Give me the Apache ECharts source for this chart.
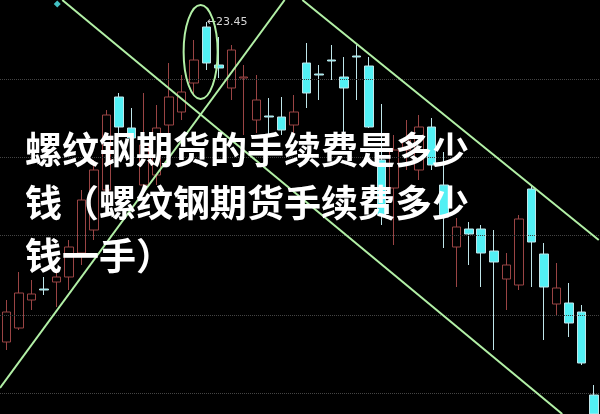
<!DOCTYPE html>
<html><head><meta charset="utf-8">
<script src="https://cdn.jsdelivr.net/npm/echarts@6/dist/echarts.min.js"></script>
<style>html,body{margin:0;padding:0;background:#000;}#c{width:600px;height:414px;}</style>
</head><body><div id="c"></div>
<script>
const categories = ['1','2','3','4','5','6','7','8','9','10','11','12','13','14','15','16','17','18','19','20','21','22','23','24','25','26','27','28','29','30','31','32','33','34','35','36','37','38','39','40','41','42','43','44','45','46','47','48'];
const opens  = [20.25,20.39,20.67,20.78,20.85,20.90,21.14,21.37,21.77,22.70,22.39,21.82,21.92,22.42,22.55,22.84,23.40,23.02,22.79,22.89,22.47,22.51,22.50,22.42,23.04,22.93,23.07,22.90,23.11,23.01,22.07,21.79,22.17,21.97,22.40,21.82,21.20,21.38,21.38,21.16,20.88,20.82,21.78,21.13,20.63,20.64,20.55,19.72];
const closes = [20.55,20.74,20.73,20.77,20.90,21.20,21.67,21.97,22.52,22.40,22.29,22.22,22.39,22.70,22.75,23.07,23.04,22.99,23.17,22.90,22.67,22.50,22.37,22.55,22.74,22.92,23.06,22.79,23.10,22.40,21.52,22.17,22.27,22.40,22.02,21.50,21.40,21.33,21.14,21.05,21.02,21.48,21.25,20.80,20.79,20.44,20.04,19.53];
const lows   = [20.17,20.37,20.57,20.72,20.60,20.77,21.02,21.27,21.67,22.32,22.07,21.72,21.82,22.32,22.47,22.72,22.97,22.89,22.67,22.32,22.34,22.30,22.32,22.32,22.59,22.67,22.87,22.25,22.67,22.39,21.42,21.22,21.97,21.87,21.97,21.19,20.80,21.02,20.80,20.17,20.57,20.77,20.80,20.27,20.52,20.30,20.02,19.53];
const highs  = [20.67,20.95,20.87,20.90,20.95,21.27,21.77,22.07,22.57,22.74,22.59,22.74,22.62,23.04,22.92,23.27,23.45,23.30,23.22,23.02,22.92,22.69,22.70,22.72,23.24,23.02,23.22,23.10,23.22,23.10,22.63,22.32,22.47,22.52,22.49,22.15,21.49,21.45,21.42,21.37,21.14,21.52,21.82,21.24,21.04,20.84,20.62,19.82];
const gridLevels = [22.88, 22.10, 21.32, 20.52, 19.74];
const trendA = [[4.48, 23.67], [44.48, 19.53]];
const trendB = [[-0.5, 19.79], [22.27, 23.67]];
const trendC = [[23.69, 23.67], [47.4, 21.27]];
const ellipseCenter = [15.55, 23.15];
const markerPoint = [[4.08, 23.63]];
const titleLines = ['螺纹钢期货的手续费是多少', '钱（螺纹钢期货手续费多少', '钱一手）'];

const candleData = categories.map((c, i) => [opens[i], closes[i], lows[i], highs[i]]);
const GREEN = '#b2f0a6';
const chart = echarts.init(document.getElementById('c'), null, {renderer: 'canvas'});
const lineSeries = (data) => ({
  type: 'line', xAxisIndex: 1, yAxisIndex: 0, data: data, symbol: 'none', silent: true,
  lineStyle: {color: GREEN, width: 2}, z: 5
});
chart.setOption({
  backgroundColor: '#000',
  animation: false,
  grid: {left: -6, right: -1, top: 0, bottom: 0},
  xAxis: [
    {type: 'category', data: categories, show: false, boundaryGap: true},
    {type: 'value', min: -0.5, max: 47.5, show: false}
  ],
  yAxis: {type: 'value', min: 19.53, max: 23.67, show: false, splitLine: {show: false}},
  series: [
    {
      type: 'candlestick', data: candleData, barWidth: 9,
      itemStyle: {color: '#000', borderColor: '#9a4444', color0: '#52f0f4', borderColor0: '#bfe6ea', borderWidth: 1},
      markLine: {
        silent: true, symbol: 'none', label: {show: false},
        lineStyle: {color: '#444', type: 'dotted', width: 1},
        data: gridLevels.map(v => ({yAxis: v}))
      },
      markPoint: {
        symbol: 'circle', symbolSize: 1, itemStyle: {color: 'rgba(0,0,0,0)'},
        data: [{type: 'max', valueDim: 'highest'}],
        label: {show: true, position: 'right', distance: 0, color: '#d6d6d6', fontSize: 11,
          fontFamily: 'DejaVu Sans', formatter: p => '←' + Number(p.value).toFixed(2)}
      },
      z: 3
    },
    lineSeries(trendA), lineSeries(trendB), lineSeries(trendC),
    {type: 'scatter', xAxisIndex: 1, data: markerPoint, symbol: 'diamond', symbolSize: 7,
      itemStyle: {color: '#52f0f4'}, silent: true}
  ]
});
const c = chart.convertToPixel({xAxisIndex: 1, yAxisIndex: 0}, ellipseCenter);
const textEls = titleLines.map((t, i) => ({
  type: 'text', left: 25, top: 131 + i * 53, z: 100,
  style: {text: t, fill: '#fff', font: 'bold 37px "Noto Sans CJK SC"',
    shadowColor: 'rgba(0,0,0,0.6)', shadowBlur: 3}
}));
chart.setOption({
  graphic: [
    {type: 'ellipse', shape: {cx: c[0], cy: c[1], rx: 17, ry: 47}, z: 6,
      style: {fill: 'none', stroke: GREEN, lineWidth: 2}, silent: true}
  ].concat(textEls)
});
</script></body></html>
